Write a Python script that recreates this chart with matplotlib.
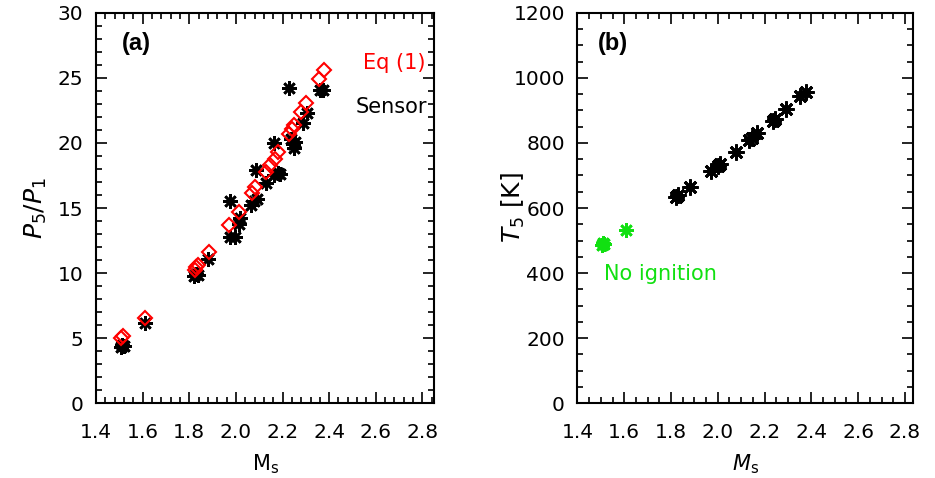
import matplotlib
matplotlib.use("Agg")
import matplotlib.pyplot as plt
from matplotlib.ticker import MultipleLocator

# ---- data (panel a) ----
eq_ms = [1.505, 1.515, 1.612, 1.824, 1.830, 1.836, 1.883, 1.971, 2.014, 2.070, 2.084,
         2.128, 2.148, 2.166, 2.181, 2.227, 2.241, 2.250, 2.281, 2.301, 2.356, 2.376]
eq_p = [5.0, 5.2, 6.55, 10.25, 10.45, 10.65, 11.6, 13.67, 14.7, 16.18, 16.6,
        17.8, 18.3, 18.8, 19.3, 20.7, 21.1, 21.35, 22.4, 23.05, 24.9, 25.6]

sens_ms = [1.505, 1.512, 1.520, 1.610, 1.822, 1.829, 1.836, 1.881, 1.974, 1.975, 1.998,
           2.013, 2.016, 2.065, 2.077, 2.090, 2.086, 2.131, 2.164, 2.165, 2.180, 2.190,
           2.228, 2.237, 2.245, 2.252, 2.248, 2.286, 2.303, 2.360, 2.374]
sens_p = [4.3, 4.5, 4.4, 6.14, 9.8, 9.95, 9.85, 11.1, 15.56, 12.75, 12.75,
          13.8, 14.2, 15.2, 15.5, 15.7, 17.92, 16.95, 20.0, 17.5, 17.7, 17.6,
          24.19, 20.3, 19.9, 20.1, 19.6, 21.5, 22.27, 24.07, 24.1]

# ---- data (panel b) ----
t_ms = [1.820, 1.828, 1.881, 1.972, 2.002, 2.010, 2.076, 2.134, 2.147, 2.167,
        2.234, 2.243, 2.293, 2.353, 2.376]
t_t5 = [634, 641, 666, 713, 728, 736, 773, 809, 816, 829, 868, 872, 904, 944, 956]
ni_ms = [1.503, 1.510, 1.514, 1.607]
ni_t5 = [486, 492, 488, 532]

xticks = [1.4, 1.6, 1.8, 2.0, 2.2, 2.4, 2.6, 2.8]
xtick_labels = ["1.4", "1.6", "1.8", "2.0", "2.2", "2.4", "2.6", "2.8"]

RED = "#ff0000"
GREEN = "#11e011"
ast = (8, 2, 0)

plt.rcParams['font.family'] = ['DejaVu Sans']
plt.rcParams['mathtext.fontset'] = 'dejavusans'

fig = plt.figure(figsize=(9.35, 4.78), dpi=100)
axa = fig.add_axes([0.1027, 0.1563, 0.3618, 0.8171])
axb = fig.add_axes([0.6176, 0.1563, 0.3592, 0.8171])

def style(ax, xmax, xminor, ymajor, yminor):
    ax.set_xlim(1.4, xmax)
    ax.set_xticks(xticks)
    ax.set_xticklabels(xtick_labels)
    ax.xaxis.set_minor_locator(MultipleLocator(xminor))
    ax.yaxis.set_major_locator(MultipleLocator(ymajor))
    ax.yaxis.set_minor_locator(MultipleLocator(yminor))
    ax.tick_params(which='both', direction='in', top=True, right=True, width=1.2, colors='black')
    ax.tick_params(which='major', length=8, labelsize=14.5)
    ax.tick_params(which='minor', length=4)
    ax.tick_params(axis='x', which='major', pad=14)
    ax.tick_params(axis='y', which='major', pad=9)
    for s in ax.spines.values():
        s.set_linewidth(1.5)

# panel a
axa.plot(sens_ms, sens_p, linestyle='none', marker=ast, markersize=10.5,
         markeredgewidth=1.9, color='black')
axa.plot(eq_ms, eq_p, linestyle='none', marker='D', markersize=7,
         markerfacecolor='none', markeredgecolor=RED, markeredgewidth=1.5)
style(axa, 2.851, 0.04, 5, 1)
axa.set_ylim(0, 30)
axa.set_xlabel(r"M$_\mathrm{s}$", fontsize=15, labelpad=8)
axa.set_ylabel(r"$P_5/P_1$", fontsize=18, labelpad=6)
axa.text(0.075, 0.92, "(a)", transform=axa.transAxes, fontsize=17,
         fontweight='bold', family='Liberation Sans', va='center', ha='left')
axa.text(0.975, 0.872, "Eq (1)", transform=axa.transAxes, fontsize=15,
         color=RED, ha='right', va='center')
axa.text(0.98, 0.759, "Sensor", transform=axa.transAxes, fontsize=15,
         color='black', ha='right', va='center')

# panel b
axb.plot(t_ms, t_t5, linestyle='none', marker=ast, markersize=11.5,
         markeredgewidth=2.0, color='black')
axb.plot(ni_ms, ni_t5, linestyle='none', marker=ast, markersize=10.5,
         markeredgewidth=1.9, color=GREEN)
style(axb, 2.836, 0.05, 200, 50)
axb.set_ylim(0, 1200)
axb.set_xlabel(r"$M_\mathrm{s}$", fontsize=15, labelpad=8)
axb.set_ylabel(r"$T_5$ [K]", fontsize=18)
axb.yaxis.set_label_coords(-0.15, 0.5)
axb.text(0.06, 0.92, "(b)", transform=axb.transAxes, fontsize=17,
         fontweight='bold', family='Liberation Sans', va='center', ha='left')
axb.text(0.08, 0.332, "No ignition", transform=axb.transAxes, fontsize=15,
         color=GREEN, ha='left', va='center')

fig.savefig("out.png", dpi=100)
